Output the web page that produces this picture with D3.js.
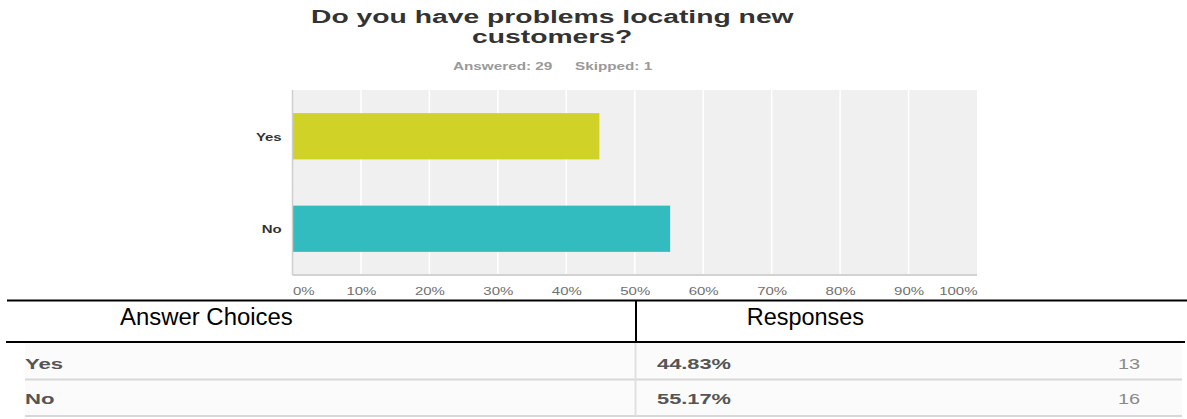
<!DOCTYPE html>
<html lang="en">
    <head>
        <meta charset="utf-8">
        <title>Do you have problems locating new customers?</title>
        <script type="text/javascript" src="https://cdn.jsdelivr.net/npm/d3@7"></script>
        <style>
            body { margin: 0; background: #fff; }
        </style>
    </head>
    <body>
        <script type="text/javascript">
            // data
            var categories = ["Yes", "No"];
            var percents = [44.83, 55.17];
            var counts = [13, 16];
            var tickValues = [0, 10, 20, 30, 40, 50, 60, 70, 80, 90, 100];
            var answered = 29;
            var skipped = 1;
            var titleLines = ["Do you have problems locating new", "customers?"];
            var headers = ["Answer Choices", "Responses"];
            var barColors = ["#d0d227", "#33bcbf"];

            var w = 1187;
            var h = 419;

            var svg = d3.select("body").append("svg")
                .attr("width", w)
                .attr("height", h)
                .style("font-family", "'Liberation Sans', Arial, sans-serif");

            // the old chart image is stretched sideways, so text gets scaled in x
            function stretched(sel, x, y, sx) {
                sel.attr("transform", "translate(" + x + "," + y + ") scale(" + sx + ",1)");
                return sel;
            }

            // title
            stretched(svg.append("text").text(titleLines[0]), 311, 22.7, 1.49)
                .attr("font-size", "19px").attr("font-weight", "bold").attr("fill", "#333");
            stretched(svg.append("text").text(titleLines[1]), 472, 42.5, 1.49)
                .attr("font-size", "19px").attr("font-weight", "bold").attr("fill", "#333");

            stretched(svg.append("text").text("Answered: " + answered), 453, 70, 1.39)
                .attr("font-size", "11px").attr("font-weight", "bold").attr("fill", "#999");
            stretched(svg.append("text").text("Skipped: " + skipped), 575, 70, 1.39)
                .attr("font-size", "11px").attr("font-weight", "bold").attr("fill", "#999");

            // plot area
            var x = d3.scaleLinear().domain([0, 100]).range([292.5, 977]);
            var y = d3.scaleBand().domain(categories).range([90, 275])
                .paddingInner(0.5).paddingOuter(0.25);

            svg.append("rect")
                .attr("x", x(0)).attr("y", 90)
                .attr("width", x(100) - x(0)).attr("height", 185)
                .attr("fill", "#f0f0f0");

            svg.selectAll("line.grid")
                .data(tickValues.slice(1, -1))
                .enter()
                .append("line")
                .attr("class", "grid")
                .attr("x1", function(d) { return x(d); })
                .attr("x2", function(d) { return x(d); })
                .attr("y1", 90).attr("y2", 275)
                .attr("stroke", "#fff").attr("stroke-width", 1.5);

            svg.selectAll("rect.bar")
                .data(percents)
                .enter()
                .append("rect")
                .attr("class", "bar")
                .attr("x", x(0))
                .attr("y", function(d, i) { return y(categories[i]); })
                .attr("width", function(d) { return x(d) - x(0); })
                .attr("height", y.bandwidth())
                .attr("fill", function(d, i) { return barColors[i]; });

            // left and bottom borders
            svg.append("line")
                .attr("x1", x(0)).attr("x2", x(0)).attr("y1", 90).attr("y2", 275)
                .attr("stroke", "#cfcfcf").attr("stroke-width", 1.5);
            svg.append("line")
                .attr("x1", x(0)).attr("x2", x(100)).attr("y1", 275).attr("y2", 275)
                .attr("stroke", "#d2d2d2").attr("stroke-width", 2);

            // category labels
            svg.selectAll("text.cat")
                .data(categories)
                .enter()
                .append("text")
                .attr("class", "cat")
                .text(function(d) { return d; })
                .attr("transform", function(d) {
                    return "translate(281.7," + (y(d) + y.bandwidth() / 2 + 4.3) + ") scale(1.36,1)";
                })
                .attr("text-anchor", "end")
                .attr("font-size", "11px")
                .attr("font-weight", "bold")
                .attr("fill", "#333");

            // x axis
            var axis = svg.append("g")
                .attr("transform", "translate(0,275)")
                .call(d3.axisBottom(x)
                    .tickValues(tickValues)
                    .tickFormat(function(d) { return d + "%"; })
                    .tickSize(0)
                    .tickPadding(13));
            axis.select(".domain").remove();
            axis.selectAll("text")
                .attr("font-family", "'Liberation Sans', Arial, sans-serif")
                .attr("font-size", "10px")
                .attr("fill", "#707070")
                .attr("transform", "scale(1.5,1)")
                .attr("text-anchor", function(d, i) {
                    if (i === 0) return "start";
                    if (i === tickValues.length - 1) return "end";
                    return "middle";
                });

            // table
            var rowTop = 343;
            var rowH = 36.5;
            var colSplit = 635.5;

            svg.append("rect")
                .attr("x", 25).attr("y", rowTop)
                .attr("width", 1182 - 25).attr("height", rowH * categories.length)
                .attr("fill", "#fbfbfb");

            svg.selectAll("line.rowsep")
                .data(categories)
                .enter()
                .append("line")
                .attr("class", "rowsep")
                .attr("x1", 25).attr("x2", 1182)
                .attr("y1", function(d, i) { return rowTop + rowH * (i + 1); })
                .attr("y2", function(d, i) { return rowTop + rowH * (i + 1); })
                .attr("stroke", "#d8d8d8").attr("stroke-width", 2);

            svg.append("line")
                .attr("x1", colSplit).attr("x2", colSplit)
                .attr("y1", rowTop).attr("y2", rowTop + rowH * categories.length)
                .attr("stroke", "#e0e0e0").attr("stroke-width", 2);

            // header frame
            svg.append("line")
                .attr("x1", 7).attr("x2", w).attr("y1", 300.5).attr("y2", 300.5)
                .attr("stroke", "#000").attr("stroke-width", 2);
            svg.append("line")
                .attr("x1", 6).attr("x2", 1185).attr("y1", 342).attr("y2", 342)
                .attr("stroke", "#000").attr("stroke-width", 2);
            svg.append("line")
                .attr("x1", colSplit + 0.5).attr("x2", colSplit + 0.5).attr("y1", 300).attr("y2", 342)
                .attr("stroke", "#000").attr("stroke-width", 2);

            // no narrow face installed, so regular Liberation Sans squeezed to the same width
            stretched(svg.append("text").text(headers[0]), 120, 325, 1.04)
                .attr("font-size", "23px").attr("fill", "#000");
            stretched(svg.append("text").text(headers[1]), 746.7, 324.5, 1.02)
                .attr("font-size", "23px").attr("fill", "#000");

            // row texts
            svg.selectAll("text.rowlabel")
                .data(categories)
                .enter()
                .append("text")
                .attr("class", "rowlabel")
                .text(function(d) { return d; })
                .attr("transform", function(d, i) {
                    return "translate(25," + (369 + i * 35) + ") scale(1.58,1)";
                })
                .attr("font-size", "14px").attr("font-weight", "bold").attr("fill", "#555");

            svg.selectAll("text.pct")
                .data(percents)
                .enter()
                .append("text")
                .attr("class", "pct")
                .text(function(d) { return d.toFixed(2) + "%"; })
                .attr("transform", function(d, i) {
                    return "translate(657," + (369 + i * 35) + ") scale(1.56,1)";
                })
                .attr("font-size", "14px").attr("font-weight", "bold").attr("fill", "#555");

            svg.selectAll("text.count")
                .data(counts)
                .enter()
                .append("text")
                .attr("class", "count")
                .text(function(d) { return d; })
                .attr("transform", function(d, i) {
                    return "translate(1140," + (369 + i * 35) + ") scale(1.42,1)";
                })
                .attr("text-anchor", "end")
                .attr("font-size", "14px").attr("fill", "#8a8a8a");
        </script>
    </body>
</html>
